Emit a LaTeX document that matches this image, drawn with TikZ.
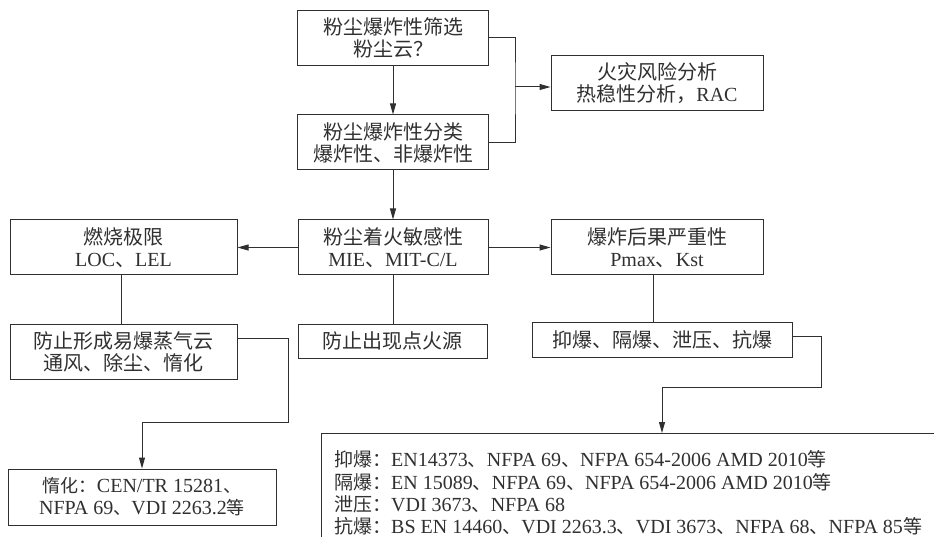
\documentclass[tikz,border=0pt]{standalone}
\usepackage{fontspec}
\setmainfont{Liberation Serif}
\newfontfamily\cjkf{Noto Sans CJK SC}
\newcommand{\zh}[1]{{\cjkf #1}}
\newcommand{\zhj}[1]{{\fontsize{19}{22.4}\selectfont\cjkf #1}}
\newcommand{\zhk}[1]{{\fontsize{18}{22}\selectfont\cjkf #1}}
\usetikzlibrary{arrows.meta}
\definecolor{ink}{HTML}{303030}
\begin{document}
\begin{tikzpicture}[x=1pt,y=-1pt,
  box/.style={draw=ink, line width=1pt, align=center, inner sep=0pt, text=ink,
    font=\fontsize{20}{22}\selectfont},
  conn/.style={draw=ink, line width=1pt},
  arr/.style={conn, -{Triangle[length=11pt,width=6pt]}}]
\clip (0,0) rectangle (934,537);
\fill[white] (0,0) rectangle (934,537);
% boxes
\node[box, minimum width=191pt, minimum height=55pt] (A) at (393,38) {\zh{粉尘爆炸性筛选}\\\zh{粉尘云？}};
\node[box, minimum width=191pt, minimum height=55pt] (B) at (393,142.5) {\zh{粉尘爆炸性分类}\\\zh{爆炸性、非爆炸性}};
\node[box, minimum width=212pt, minimum height=55pt] (C) at (657,83.5) {\zh{火灾风险分析}\\\zh{热稳性分析，}RAC};
\node[box, minimum width=190pt, minimum height=55pt] (D) at (393,247.5) {\zh{粉尘着火敏感性}\\MIE\zh{、}MIT-C/L};
\node[box, minimum width=227pt, minimum height=55pt] (E) at (123.5,247.5) {\zh{燃烧极限}\\LOC\zh{、}LEL};
\node[box, minimum width=212pt, minimum height=55pt] (F) at (657,247.5) {\zh{爆炸后果严重性}\\Pmax\zh{、}Kst};
\node[box, minimum width=227pt, minimum height=55pt] (G) at (123.5,351.5) {\zh{防止形成易爆蒸气云}\\\zh{通风、除尘、惰化}};
\node[box, minimum width=189pt, minimum height=34pt] (H) at (392.5,341) {\zh{防止出现点火源}};
\node[box, minimum width=260pt, minimum height=35pt] (I) at (662,339.5) {\zh{抑爆、隔爆、泄压、抗爆}};
\node[box, minimum width=268pt, minimum height=56pt, font=\fontsize{20}{22}\selectfont] (K) at (142,497) {\zhk{惰化：}CEN/TR 15281\zhk{、}\\NFPA 69\zhk{、}VDI 2263.2\zhk{等}};
\node[box, minimum width=649pt, minimum height=137pt] (J) at (645.5,501.5) {};
\node[anchor=north west, align=left, inner sep=0pt, text=ink,
  font=\fontsize{20}{22.4}\selectfont] (Jt) at (334,450.5)
  {\zhj{抑爆：}EN14373\zhj{、}NFPA 69\zhj{、}NFPA 654-2006 AMD 2010\zhj{等}\\
   \zhj{隔爆：}EN 15089\zhj{、}NFPA 69\zhj{、}NFPA 654-2006 AMD 2010\zhj{等}\\
   \zhj{泄压：}VDI 3673\zhj{、}NFPA 68\\
   \zhj{抗爆：}BS EN 14460\zhj{、}VDI 2263.3\zhj{、}VDI 3673\zhj{、}NFPA 68\zhj{、}NFPA 85\zhj{等}};
% connectors
\draw[arr] (A.south) -- (B.north);
\coordinate (j1) at (515,87);
\draw[conn] (A.east) -| (j1) |- (B.east);
\draw[arr] (j1) -- (C.west |- j1);
\draw[arr] (B.south) -- (D.north);
\draw[arr] (D.west) -- (E.east);
\draw[arr] (D.east) -- (F.west);
\draw[conn] (E.south -| 121,0) -- (G.north -| 121,0);
\draw[conn] (D.south) -- (H.north -| D.south);
\draw[conn] (F.south -| 653,0) -- (I.north -| 653,0);
\coordinate (t0) at (821,336);
\coordinate (t1) at (821,387);
\coordinate (t2) at (662,433);
\draw[arr] (I.east |- t0) -- (t0) -- (t1) -| (t2);
\coordinate (g1) at (288,338);
\coordinate (g2) at (142,422);
\draw[arr] (G.east |- g1) -- (g1) |- (g2) -- (K.north);
\end{tikzpicture}
\end{document}
